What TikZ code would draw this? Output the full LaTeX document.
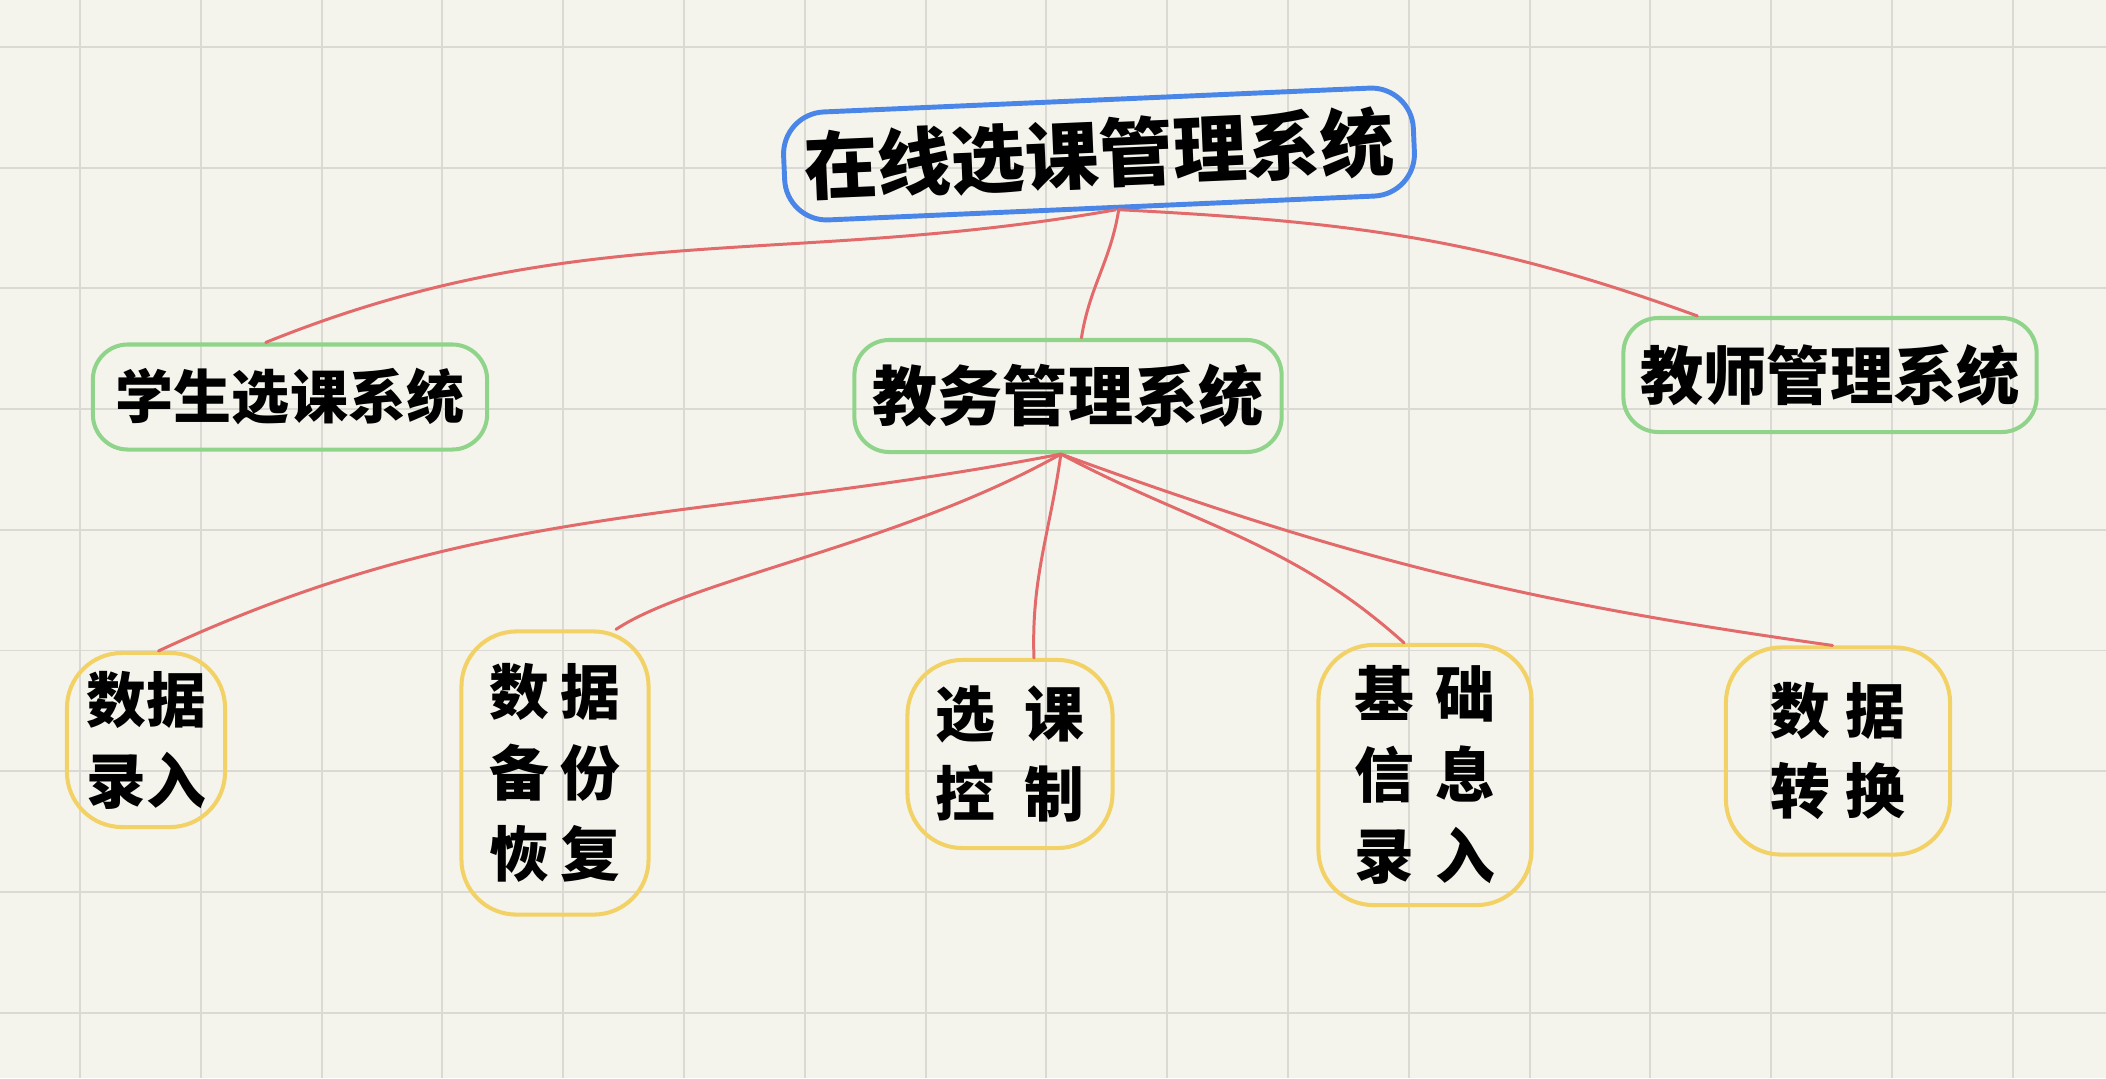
\documentclass[tikz,border=0pt]{standalone}
\usepackage{fontspec}
\newfontfamily\cjk{Noto Sans CJK SC}
\usetikzlibrary{calc}
\definecolor{paper}{HTML}{F5F4EC}
\definecolor{gridc}{HTML}{DAD9D3}
\definecolor{redl}{HTML}{E26A6A}
\definecolor{bluel}{HTML}{4A86E8}
\definecolor{greenl}{HTML}{8FD48A}
\definecolor{yellowl}{HTML}{F2D266}
\tikzset{
  gridline/.style={gridc, line width=0.55pt},
  link/.style={redl, line width=0.85pt, line cap=round},
  lbl/.style={inner sep=0pt, align=center, text=black, font=\cjk\bfseries},
  topbox/.style={lbl, draw=bluel, line width=1.4pt, rounded corners=0.42cm,
     font=\cjk\bfseries\fontsize{21}{25}\selectfont},
  midbox/.style={lbl, draw=greenl, line width=1.15pt, rounded corners=0.35cm},
  leafbox/.style={lbl, draw=yellowl, line width=1.15pt, rounded corners=0.55cm,
     font=\cjk\bfseries\fontsize{17}{23}\selectfont}
}
\begin{document}
\begin{tikzpicture}[x=0.01cm, y=-0.01cm]
\fill[paper] (0,0) rectangle (2106,1078);
\useasboundingbox (0,0) rectangle (2106,1078);
\foreach \i in {0,...,16} \draw[gridline] ({80+120.8*\i},0) -- ({80+120.8*\i},1078);
\foreach \j in {0,...,8} \draw[gridline] (0,{47+120.7*\j}) -- (2106,{47+120.7*\j});

% level 1
\node[topbox, minimum width=6.3cm, minimum height=1.08cm, rotate=2.5] (top) at (1099,154) {在线选课管理系统};

% level 2
\node[midbox, minimum width=3.94cm, minimum height=1.05cm, font=\cjk\bfseries\fontsize{16.5}{20}\selectfont] (stu) at (290,397) {学生选课系统};
\node[midbox, minimum width=4.27cm, minimum height=1.12cm, font=\cjk\bfseries\fontsize{18.5}{22}\selectfont] (edu) at (1068,396) {教务管理系统};
\node[midbox, minimum width=4.13cm, minimum height=1.14cm, font=\cjk\bfseries\fontsize{18}{22}\selectfont] (tea) at (1830,375) {教师管理系统};

% level 3
\node[leafbox, minimum width=1.58cm, minimum height=1.74cm] (l1) at (146,740) {数据\\录入};
\node[leafbox, minimum width=1.87cm, minimum height=2.83cm] (l2) at (555,773) {数\hspace{0.2em}据\\备\hspace{0.2em}份\\恢\hspace{0.2em}复};
\node[leafbox, minimum width=2.05cm, minimum height=1.88cm] (l3) at (1010,754) {选\hspace{0.5em}课\\控\hspace{0.5em}制};
\node[leafbox, minimum width=2.13cm, minimum height=2.60cm] (l4) at (1425,775) {基\hspace{0.35em}础\\信\hspace{0.35em}息\\录\hspace{0.35em}入};
\node[leafbox, minimum width=2.24cm, minimum height=2.07cm] (l5) at (1838,751) {数\hspace{0.25em}据\\转\hspace{0.25em}换};

% connectors
\draw[link] (top.-76) to[out=190,in=22] (stu.114);
\draw[link] (top.-73) to[out=-99,in=81] (edu.77);
\draw[link] (top.-73) to[out=-3,in=160] (tea.156);

\draw[link] (edu.-97) to[out=191,in=25] (l1.82);
\draw[link] (edu.-97) .. controls +(-160,90) and +(75,-50) .. (l2.67);
\draw[link] (edu.-97) to[out=-98,in=92] (l3.76);
\draw[link] (edu.-97) to[out=-28,in=138] (l4.99);
\draw[link] (edu.-97) to[out=-20,in=172] (l5.93);
\end{tikzpicture}
\end{document}
